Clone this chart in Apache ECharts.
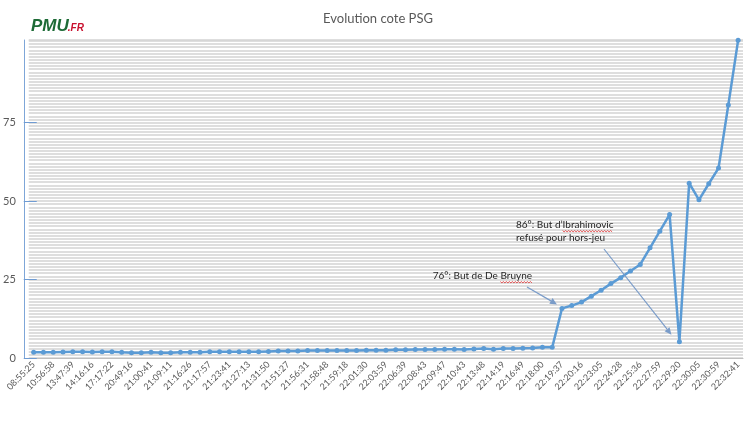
<!DOCTYPE html>
<html><head><meta charset="utf-8">
<script src="https://cdn.jsdelivr.net/npm/echarts@6/dist/echarts.min.js"></script>
<style>html,body{margin:0;padding:0;background:#fff}#c{width:756px;height:425px}</style>
</head><body><div id="c"></div>
<script>
// ---- data ----
const chartTitle = 'Evolution cote PSG';
const tickLabels = ['08:55:25','10:56:58','13:47:39','14:16:16','17:17:22','20:49:16','21:00:41','21:09:11','21:16:26','21:17:57','21:23:41','21:27:13','21:31:50','21:51:27','21:56:31','21:58:48','21:59:18','22:01:30','22:03:59','22:06:39','22:08:43','22:09:47','22:10:43','22:13:48','22:14:19','22:16:49','22:18:00','22:19:37','22:20:16','22:23:05','22:24:28','22:25:36','22:27:59','22:29:20','22:30:05','22:30:59','22:32:41'];
const coteBeforeGoal = [1.8,1.8,1.8,1.9,2.0,2.0,1.9,2.0,2.0,1.8,1.7,1.7,1.8,1.7,1.7,1.8,1.8,1.8,
  2.0,2.0,2.0,2.0,2.0,2.0,2.1,2.2,2.2,2.2,
  2.4,2.4,2.4,2.4,2.4,2.4,2.5,2.5,2.5,2.6,2.6,
  2.7,2.7,2.7,2.8,2.8,2.7,2.9,3.0,2.8,
  3.0,3.0,3.1,3.2,3.4,3.4];
const coteAfterGoal = [15.8,16.7,17.8,19.7,21.6,23.7,25.6,27.7,29.8,35.1,40.4,45.7,5.2,55.7,50.4,55.5,60.5,80.6,101.2];
const yAxisTicks = [0,25,50,75];
const yMax = 101.3;
const annotationGoal = { index: 54, text: '76°: But de De Bruyne', underline: 'Bruyne' };
const annotationOffside = { index: 66, lines: ['86°: But d’Ibrahimovic', 'refusé pour hors-jeu'], underline: 'Ibrahimovic' };

const cote = coteBeforeGoal.concat(coteAfterGoal);
const categories = cote.map((v, i) => (i % 2 === 0 ? tickLabels[i / 2] : ''));

const FAM = 'Lato';
const chart = echarts.init(document.getElementById('c'), null, { renderer: 'canvas' });

chart.setOption({
  animation: false,
  backgroundColor: '#fff',
  title: {
    text: chartTitle, left: 'center', top: 7,
    textStyle: { fontSize: 13, fontWeight: 'normal', color: '#595959', fontFamily: FAM }
  },
  grid: { left: 28, right: 13, top: 40, bottom: 67, containLabel: false },
  xAxis: {
    type: 'category', data: categories, boundaryGap: true,
    axisLine: { lineStyle: { color: '#bfbfbf', width: 1 } },
    axisTick: { show: false },
    axisLabel: { interval: 0, rotate: 45, fontSize: 9, color: '#595959', margin: 5, fontFamily: FAM }
  },
  yAxis: [{
    type: 'value', min: 0, max: yMax, interval: 1,
    axisLine: { show: false }, axisTick: { show: false },
    splitLine: { show: true, lineStyle: { color: '#d3d3d3', width: 1.5 } },
    axisLabel: { show: false }
  }, {
    type: 'value', min: 0, max: yMax, position: 'left', offset: 5,
    axisLine: { show: true, lineStyle: { color: '#7ea6d8', width: 1 } },
    axisTick: { show: true, inside: true, length: 13, customValues: yAxisTicks, lineStyle: { color: '#6f9bd2', width: 1 } },
    axisLabel: { show: true, customValues: yAxisTicks, margin: 8, fontSize: 11, color: '#595959', fontFamily: FAM },
    splitLine: { show: false }
  }],
  series: [{
    type: 'line', data: cote, yAxisIndex: 0,
    symbol: 'circle', symbolSize: 5,
    lineStyle: { color: '#5b9bd5', width: 2.5 },
    itemStyle: { color: '#5b9bd5' },
    z: 5
  }]
});

// ---- annotations ----
const ctx = document.createElement('canvas').getContext('2d');
function textW(s, size, fam, extra) { ctx.font = (extra || '') + ' ' + size + 'px ' + fam; return ctx.measureText(s).width; }
const annSize = 10;
const arrowColor = '#7a9cc9';
const g = [];

function arrow(x1, y1, x2, y2) {
  const a = Math.atan2(y2 - y1, x2 - x1), L = 7, W = 3.2;
  const bx = x2 - L * Math.cos(a), by = y2 - L * Math.sin(a);
  g.push({ type: 'line', shape: { x1, y1, x2: bx, y2: by }, style: { stroke: arrowColor, lineWidth: 1.2 }, z: 10 });
  g.push({ type: 'polygon', shape: { points: [[x2, y2], [bx - W * Math.sin(a), by + W * Math.cos(a)], [bx + W * Math.sin(a), by - W * Math.cos(a)]] }, style: { fill: arrowColor }, z: 10 });
}
function squiggle(x0, x1, y) {
  const pts = []; let up = true;
  for (let x = x0; x <= x1; x += 1.5) { pts.push([x, y + (up ? 0 : 1.4)]); up = !up; }
  g.push({ type: 'polyline', shape: { points: pts }, style: { stroke: '#e03030', lineWidth: 0.8, fill: null }, z: 11 });
}
function label(txt, x, y) {
  g.push({ type: 'text', x, y, style: { text: txt, fontSize: annSize, fontFamily: FAM, fill: '#262626', verticalAlign: 'middle', align: 'left' }, z: 11 });
}

// goal annotation
const w1 = textW(annotationGoal.text, annSize, FAM);
const tx1 = 532 - w1, ty1 = 276;
label(annotationGoal.text, tx1, ty1);
const ub = annotationGoal.text.indexOf(annotationGoal.underline);
squiggle(tx1 + textW(annotationGoal.text.slice(0, ub), annSize, FAM), tx1 + w1, ty1 + 5.5);
const p1 = chart.convertToPixel({ xAxisIndex: 0, yAxisIndex: 0 }, [annotationGoal.index, cote[annotationGoal.index]]);
arrow(527, 287, p1[0] - 5, p1[1] - 4);

// offside annotation
const tx2 = 516;
label(annotationOffside.lines[0], tx2, 225);
label(annotationOffside.lines[1], tx2, 238);
const ui = annotationOffside.lines[0].indexOf(annotationOffside.underline);
squiggle(tx2 + textW(annotationOffside.lines[0].slice(0, ui), annSize, FAM), tx2 + textW(annotationOffside.lines[0], annSize, FAM), 230.5);
const p2 = chart.convertToPixel({ xAxisIndex: 0, yAxisIndex: 0 }, [annotationOffside.index, cote[annotationOffside.index]]);
arrow(604, 249, p2[0] - 8, p2[1] - 7);

// logo
const LF = 'Liberation Sans';
g.push({ type: 'text', x: 31, y: 26, style: { text: 'PMU', fontSize: 17, fontWeight: 'bold', fontStyle: 'italic', fontFamily: LF, fill: '#1d6b36', verticalAlign: 'middle' }, z: 12 });
g.push({ type: 'text', x: 31 + textW('PMU', 17, LF, 'italic bold') - 1, y: 28, style: { text: '.FR', fontSize: 10, fontWeight: 'bold', fontStyle: 'italic', fontFamily: LF, fill: '#c8102e', verticalAlign: 'middle' }, z: 12 });

chart.setOption({ graphic: g });
</script>
</body></html>
